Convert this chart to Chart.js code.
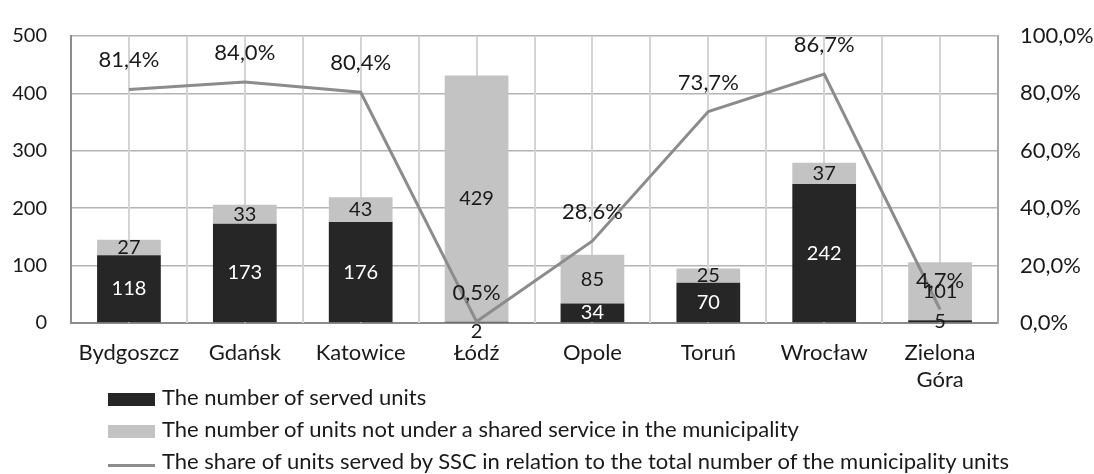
<!DOCTYPE html>
<html>
<head>
<meta charset="utf-8">
<script src="https://cdn.jsdelivr.net/npm/chart.js@4/dist/chart.umd.min.js"></script>
<style>
  body { margin: 0; background: #fff; font-family: Lato, sans-serif; }
  #wrap { position: relative; width: 1094px; height: 400px; }
  #legend { position: absolute; left: 108px; top: 381px; font-size: 22px; color: #1a1a1a; }
  #legend div { height: 32px; line-height: 32px; white-space: nowrap; }
  #legend span.box { display: inline-block; width: 47px; height: 13px; vertical-align: -1px; margin-right: 7px; }
  #legend span.line { display: inline-block; width: 47px; height: 3px; vertical-align: 2px; margin-right: 7px; }
</style>
</head>
<body>
<div id="wrap"><canvas id="chart"></canvas></div>
<div id="legend"></div>
<script>
const miasta = ['Bydgoszcz', 'Gdańsk', 'Katowice', 'Łódź', 'Opole', 'Toruń', 'Wrocław', ['Zielona', 'Góra']];
const obslugiwane = [118, 173, 176, 2, 34, 70, 242, 5];
const nieobslugiwane = [27, 33, 43, 429, 85, 25, 37, 101];
const udzial = [81.4, 84.0, 80.4, 0.5, 28.6, 73.7, 86.7, 4.7];

const etykiety = [
    'The number of served units',
    'The number of units not under a shared service in the municipality',
    'The share of units served by SSC in relation  to the total number of the municipality units'
];

const CZARNY = '#262626';
const SZARY = '#c3c3c3';
const LINIA = '#8c8c8c';

function procent(v) {
    return v.toFixed(1).replace('.', ',') + '%';
}

// pionowe linie siatki co pol kategorii (srodki i granice)
const siatkaPlugin = {
    id: 'siatka',
    beforeDatasetsDraw(chart) {
        const ctx = chart.ctx;
        const x = chart.scales.x;
        const area = chart.chartArea;
        const n = chart.data.labels.length;
        const krok = (x.right - x.left) / n / 2;
        ctx.save();
        ctx.strokeStyle = '#d4d4d4';
        ctx.lineWidth = 2;
        for (let i = 1; i < n * 2; i++) {
            const px = Math.round(x.left + i * krok);
            ctx.beginPath();
            ctx.moveTo(px, area.top);
            ctx.lineTo(px, area.bottom);
            ctx.stroke();
        }
        ctx.restore();
    }
};

const etykietyPlugin = {
    id: 'etykiety',
    afterDatasetsDraw(chart) {
        const ctx = chart.ctx;
        ctx.save();
        ctx.textAlign = 'center';
        ctx.textBaseline = 'middle';
        chart.data.datasets.forEach((ds, di) => {
            const meta = chart.getDatasetMeta(di);
            meta.data.forEach((el, i) => {
                const v = ds.data[i];
                if (ds.type === 'line') {
                    ctx.font = '22px Lato';
                    ctx.fillStyle = '#1a1a1a';
                    ctx.fillText(procent(v), el.x, el.y - 29);
                } else {
                    ctx.font = '20px Lato';
                    const h = Math.abs(el.base - el.y);
                    let y = (el.y + el.base) / 2;
                    if (h < 2) y = el.base + 9;
                    ctx.fillStyle = (di === 0 && h >= 4) ? '#ffffff' : '#1a1a1a';
                    ctx.fillText(String(v), el.x, y);
                }
            });
        });
        ctx.restore();
    }
};

Chart.defaults.font.family = 'Lato';
Chart.defaults.font.size = 20;
Chart.defaults.color = '#1a1a1a';

const wykres = new Chart(document.getElementById('chart'), {
    data: {
        labels: miasta,
        datasets: [
            {
                type: 'bar',
                label: etykiety[0],
                data: obslugiwane,
                backgroundColor: CZARNY,
                stack: 's',
                yAxisID: 'y',
                order: 1,
                barPercentage: 0.55,
                categoryPercentage: 1
            },
            {
                type: 'bar',
                label: etykiety[1],
                data: nieobslugiwane,
                backgroundColor: SZARY,
                stack: 's',
                yAxisID: 'y',
                order: 2,
                barPercentage: 0.55,
                categoryPercentage: 1
            },
            {
                type: 'line',
                label: etykiety[2],
                data: udzial,
                borderColor: LINIA,
                borderWidth: 3,
                pointRadius: 0,
                tension: 0,
                yAxisID: 'y2',
                order: 0
            }
        ]
    },
    options: {
        responsive: true,
        maintainAspectRatio: false,
        animation: false,
        layout: { padding: { top: 26, left: 0, right: 0, bottom: 0 } },
        plugins: {
            legend: { display: false },
            tooltip: { enabled: false }
        },
        scales: {
            x: {
                type: 'category',
                stacked: true,
                grid: { display: false, drawTicks: false },
                border: { color: '#8c8c8c', width: 2 },
                ticks: { padding: 17, color: '#1a1a1a', maxRotation: 0, autoSkip: false, font: { size: 22, lineHeight: 1.2 } },
                afterFit(s) { s.height = 77; }
            },
            y: {
                stacked: true,
                position: 'left',
                min: 0,
                max: 500,
                ticks: { stepSize: 100, padding: 24, color: '#1a1a1a' },
                grid: { color: '#b4b4b4', lineWidth: 1.5, drawTicks: false },
                border: { color: '#8c8c8c', width: 2 },
                afterFit(s) { s.width = 71; }
            },
            y2: {
                position: 'right',
                min: 0,
                max: 100,
                ticks: { stepSize: 20, padding: 22, color: '#1a1a1a', font: { size: 22 }, callback: v => procent(v) },
                grid: { display: false, drawTicks: false },
                border: { color: '#a6a6a6', width: 2 },
                afterFit(s) { s.width = 96; }
            }
        }
    },
    plugins: [siatkaPlugin, etykietyPlugin]
});

const legenda = document.getElementById('legend');
wykres.data.datasets.forEach((ds) => {
    const row = document.createElement('div');
    const znak = document.createElement('span');
    if (ds.type === 'line') {
        znak.className = 'line';
        znak.style.background = ds.borderColor;
    } else {
        znak.className = 'box';
        znak.style.background = ds.backgroundColor;
    }
    row.appendChild(znak);
    row.appendChild(document.createTextNode(ds.label));
    legenda.appendChild(row);
});
</script>
</body>
</html>
